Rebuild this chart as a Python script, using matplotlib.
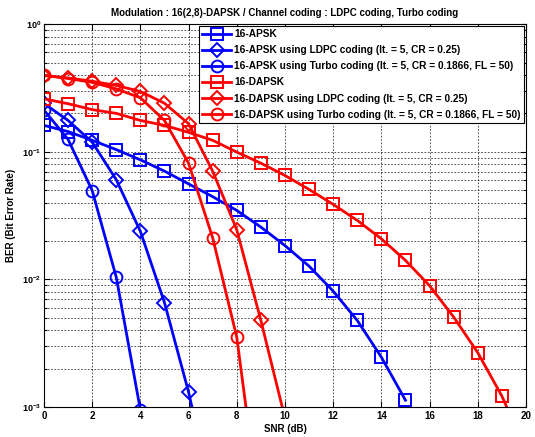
import numpy as np
import matplotlib
matplotlib.use('Agg')
import matplotlib.pyplot as plt
from matplotlib.ticker import FixedLocator, LogLocator, NullFormatter

# ------------------------------------------------------------
# Dados
# ------------------------------------------------------------
snr_apsk = list(range(0, 16))
ber_apsk = [0.161, 0.144, 0.123, 0.104, 0.0865, 0.0705, 0.0560, 0.0445,
            0.0347, 0.0257, 0.0184, 0.0127, 0.0081, 0.00477, 0.00246, 0.00113]

snr_apsk_ldpc = list(range(0, 8))
ber_apsk_ldpc = [0.239, 0.176, 0.119, 0.0604, 0.0238, 0.00658, 0.00131, 0.00019]

snr_apsk_turbo = list(range(0, 5))
ber_apsk_turbo = [0.212, 0.125, 0.0497, 0.0104, 0.00095]

snr_dapsk = list(range(0, 21))
ber_dapsk = [0.260, 0.238, 0.214, 0.200, 0.176, 0.161, 0.142, 0.123, 0.0994,
             0.0814, 0.0652, 0.0507, 0.0387, 0.0290, 0.0208, 0.0141, 0.00893,
             0.00507, 0.00267, 0.00122, 0.00046]

snr_dapsk_ldpc = list(range(0, 11))
ber_dapsk_ldpc = [0.395, 0.379, 0.357, 0.331, 0.297, 0.240, 0.166, 0.0705,
                  0.0245, 0.00477, 0.00082]

snr_dapsk_turbo = list(range(0, 10))
ber_dapsk_turbo = [0.398, 0.375, 0.350, 0.311, 0.265, 0.176, 0.0814, 0.0212,
                   0.00353, 0.00013]

labels = ['16-APSK',
          '16-APSK using LDPC coding (It. = 5, CR = 0.25)',
          '16-APSK using Turbo coding (It. = 5, CR = 0.1866, FL = 50)',
          '16-DAPSK',
          '16-DAPSK using LDPC coding (It. = 5, CR = 0.25)',
          '16-DAPSK using Turbo coding (It. = 5, CR = 0.1866, FL = 50)']

x_ticks = [0, 2, 4, 6, 8, 10, 12, 14, 16, 18, 20]
y_ticks = [1e-3, 1e-2, 1e-1, 1e0]
y_tick_labels = [r'$\mathbf{10^{-3}}$', r'$\mathbf{10^{-2}}$',
                 r'$\mathbf{10^{-1}}$', r'$\mathbf{10^{0}}$']

# ------------------------------------------------------------
# Gráfico
# ------------------------------------------------------------
plt.rcParams['font.family'] = ['Liberation Sans', 'DejaVu Sans']
plt.rcParams['font.weight'] = 'bold'
plt.rcParams['mathtext.fontset'] = 'custom'
plt.rcParams['mathtext.bf'] = 'Liberation Sans:bold'
plt.rcParams['mathtext.rm'] = 'Liberation Sans:bold'

fig = plt.figure(figsize=(5.35, 4.37), dpi=100)
ax = fig.add_axes([0.0822, 0.0687, 0.9008, 0.876])

series = [
    (snr_apsk, ber_apsk, 'blue', 's'),
    (snr_apsk_ldpc, ber_apsk_ldpc, 'blue', 'D'),
    (snr_apsk_turbo, ber_apsk_turbo, 'blue', 'o'),
    (snr_dapsk, ber_dapsk, 'red', 's'),
    (snr_dapsk_ldpc, ber_dapsk_ldpc, 'red', 'D'),
    (snr_dapsk_turbo, ber_dapsk_turbo, 'red', 'o'),
]
for (sx, sy, cor, mk), lab in zip(series, labels):
    ms = 7.5 if mk == 'D' else 8.5
    ax.semilogy(sx, sy, color=cor, marker=mk, markersize=ms, markerfacecolor='none',
                markeredgewidth=1.4, linewidth=2, label=lab)

ax.set_xlim(0, 20)
ax.set_ylim(1e-3, 1e0)
ax.xaxis.set_major_locator(FixedLocator(x_ticks))
ax.set_xticklabels([str(t) for t in x_ticks], fontsize=7, fontweight='bold')
ax.yaxis.set_major_locator(FixedLocator(y_ticks))
ax.set_yticklabels(y_tick_labels, fontsize=6.5)
ax.yaxis.set_minor_locator(LogLocator(base=10, subs=np.arange(2, 10)))
ax.yaxis.set_minor_formatter(NullFormatter())

ax.tick_params(which='both', direction='in', top=True, right=True, width=0.8)
ax.tick_params(which='major', length=4, pad=3)
ax.tick_params(axis='y', which='major', pad=2)
ax.tick_params(which='minor', length=2)

ax.grid(True, which='major', color='black', linestyle=(0, (2, 2)), linewidth=0.6, alpha=0.8)
ax.grid(True, which='minor', axis='y', color='black', linestyle=(0, (2, 2)), linewidth=0.6, alpha=0.8)
for s in ax.spines.values():
    s.set_linewidth(0.8)

ax.set_title('Modulation : 16(2,8)-DAPSK / Channel coding : LDPC coding, Turbo coding',
             fontsize=7, fontweight='bold', pad=6)
ax.set_xlabel('SNR (dB)', fontsize=7, fontweight='bold', labelpad=2)
ax.set_ylabel('BER (Bit Error Rate)', fontsize=7, fontweight='bold')
ax.yaxis.set_label_coords(-0.058, 0.5)

leg = ax.legend(loc='upper right', fontsize=7.3, handlelength=2.8, borderaxespad=0.15,
                labelspacing=0.6, handletextpad=0.35, borderpad=0.35, fancybox=False,
                framealpha=1, edgecolor='black')
leg.get_frame().set_linewidth(0.8)

fig.savefig('out.png', dpi=100)
